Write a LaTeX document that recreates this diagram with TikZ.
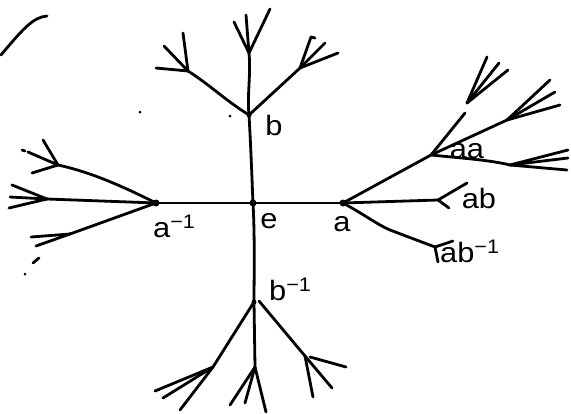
\documentclass[tikz,border=0pt]{standalone}
\usepackage{fontspec}
\newfontfamily\handfont{Liberation Sans}
\begin{document}
\begin{tikzpicture}[x=1pt,y=-1pt,
  edge/.style={line width=2.8pt, line cap=round, line join=round},
  vdot/.style={circle, fill, inner sep=0pt, minimum size=7pt},
  speck/.style={circle, fill, inner sep=0pt, minimum size=3pt},
  lbl/.style={font=\handfont\fontsize{28}{28}\selectfont, inner sep=0pt, xscale=1.1}]
\useasboundingbox (0,0) rectangle (571,413);
% main vertices
\coordinate (e) at (253,203);
\coordinate (a) at (343,203);
\coordinate (ai) at (156,203);
\coordinate (b) at (249,115);
\coordinate (bi) at (254,302);
% top subtree
\coordinate (bt) at (249,53);
\coordinate (bl) at (188,71);
\coordinate (br) at (300,68);
\coordinate (bt1) at (234,22); \coordinate (bt2) at (246,15); \coordinate (bt3) at (270,9);
\coordinate (bl1) at (156,68); \coordinate (bl2) at (164,46); \coordinate (bl3) at (183,33);
\coordinate (br1) at (311,37); \coordinate (br1h) at (315,38); \coordinate (br2) at (325,43); \coordinate (br3) at (338,53);
% bottom subtree
\coordinate (bil) at (213,367);
\coordinate (bim) at (255,367);
\coordinate (bir0) at (259,301);
\coordinate (bir) at (305,356);
\coordinate (bil1) at (155,391); \coordinate (bil2) at (163,398); \coordinate (bil3) at (180,410);
\coordinate (bim1) at (230,405); \coordinate (bim2) at (245,403); \coordinate (bim3) at (266,412);
\coordinate (birs) at (310,357);
\coordinate (bir1) at (313,397); \coordinate (bir2) at (332,388); \coordinate (bir3) at (346,367);
% left subtree
\coordinate (ail) at (58,165);
\coordinate (aim) at (47,199);
\coordinate (aib) at (70,234);
\coordinate (ail1) at (43,140); \coordinate (ail2) at (28,152); \coordinate (ail2d) at (22,150); \coordinate (ail2e) at (25,151); \coordinate (ail3) at (32,173);
\coordinate (aim1) at (12,185); \coordinate (aim2) at (10,197); \coordinate (aim3) at (9,208);
\coordinate (aib1) at (31,237); \coordinate (aib2) at (36,246);
\coordinate (aibd1) at (33,263); \coordinate (aibd2) at (39,258);
% right subtree
\coordinate (aa) at (431,155);
\coordinate (aau0) at (465,113);
\coordinate (aau) at (467,103);
\coordinate (aau1) at (487,57); \coordinate (aau2) at (499,63); \coordinate (aau3) at (508,70);
\coordinate (aam) at (507,120);
\coordinate (aam1) at (550,80); \coordinate (aam2) at (555,92); \coordinate (aam3) at (560,105);
\coordinate (aal) at (510,165);
\coordinate (aal1) at (568,150); \coordinate (aal2) at (568,158); \coordinate (aal3) at (567,170);
\coordinate (ab) at (438,200);
\coordinate (ab1) at (467,183); \coordinate (ab2) at (449,208);
\coordinate (abim) at (390,230);
\coordinate (abi) at (435,247);
\coordinate (abi1) at (453,241); \coordinate (abi2) at (438,262);
% arc top left
\coordinate (arcA) at (1,55); \coordinate (arcB) at (47,16);
\draw[edge] (arcA) .. controls (22,30) and (33,17) .. (arcB);
% main edges
\draw[edge] (ai) -- (e) -- (a);
\draw[edge] (b) .. controls (251,150) and (252,180) .. (e);
\draw[edge] (e) .. controls (255,240) and (254,280) .. (bi);
% top subtree
\draw[edge] (b) .. controls (247,95) and (251,75) .. (bt);
\draw[edge] (b) .. controls (225,100) and (210,85) .. (bl);
\draw[edge] (b) -- (br);
\draw[edge] (bt) -- (bt1); \draw[edge] (bt) -- (bt2); \draw[edge] (bt) -- (bt3);
\draw[edge] (bl) -- (bl1); \draw[edge] (bl) -- (bl2); \draw[edge] (bl) -- (bl3);
\draw[edge] (br) -- (br1) -- (br1h); \draw[edge] (br) -- (br2); \draw[edge] (br) -- (br3);
% bottom subtree
\draw[edge] (bi) -- (bil); \draw[edge] (bi) -- (bim); \draw[edge] (bir0) -- (bir);
\draw[edge] (bil) -- (bil1); \draw[edge] (bil) -- (bil2); \draw[edge] (bil) -- (bil3);
\draw[edge] (bim) -- (bim1); \draw[edge] (bim) -- (bim2); \draw[edge] (bim) -- (bim3);
\draw[edge] (birs) -- (bir3); \draw[edge] (bir) -- (bir1); \draw[edge] (bir) -- (bir2);
% left subtree
\draw[edge] (ai) .. controls (120,185) and (90,172) .. (ail);
\draw[edge] (ai) -- (aim);
\draw[edge] (ai) -- (aib);
\draw[edge] (ail) -- (ail1); \draw[edge] (ail) -- (ail2); \draw[edge] (ail2d) -- (ail2e); \draw[edge] (ail) -- (ail3);
\draw[edge] (aim) -- (aim1); \draw[edge] (aim) -- (aim2); \draw[edge] (aim) -- (aim3);
\draw[edge] (aib) -- (aib1); \draw[edge] (aib) -- (aib2);
\draw[edge] (aibd1) -- (aibd2);
% right subtree
\draw[edge] (a) -- (aa);
\draw[edge] (aa) -- (aau0);
\draw[edge] (aau) -- (aau1); \draw[edge] (aau) -- (aau2); \draw[edge] (aau) -- (aau3);
\draw[edge] (aa) -- (aam);
\draw[edge] (aam) -- (aam1); \draw[edge] (aam) -- (aam2); \draw[edge] (aam) -- (aam3);
\draw[edge] (aa) .. controls (460,158) and (490,160) .. (aal);
\draw[edge] (aal) -- (aal1); \draw[edge] (aal) -- (aal2); \draw[edge] (aal) -- (aal3);
\draw[edge] (a) -- (ab);
\draw[edge] (ab1) -- (ab) -- (ab2);
\draw[edge] (a) .. controls (365,215) and (378,225) .. (abim) -- (abi);
\draw[edge] (abi1) -- (abi) -- (abi2);
% vertex dots
\node[vdot] (de) at (e) {};
\node[vdot] (da) at (a) {};
\node[vdot] (dai) at (ai) {};
\node[vdot, minimum size=5pt] (db) at (b) {};
\node[vdot, minimum size=5pt] (dbi) at (bi) {};
% specks
\node[speck] (s1) at (140,112) {};
\node[speck] (s2) at (230,116) {};
\node[speck] (s3) at (25,274) {};
% labels
\node[lbl] (le) at (269,221) {e};
\node[lbl] (la) at (342,224) {a};
\node[lbl, anchor=west] (lai) at (153,226) {a\textsuperscript{−1}};
\node[lbl] (lb) at (274,125) {b};
\node[lbl, anchor=west] (lbi) at (269,289) {b\textsuperscript{−1}};
\node[lbl] (laa) at (467,151) {aa};
\node[lbl] (lab) at (479,198) {ab};
\node[lbl, anchor=west] (labi) at (440,251) {ab\textsuperscript{−1}};
\end{tikzpicture}
\end{document}
